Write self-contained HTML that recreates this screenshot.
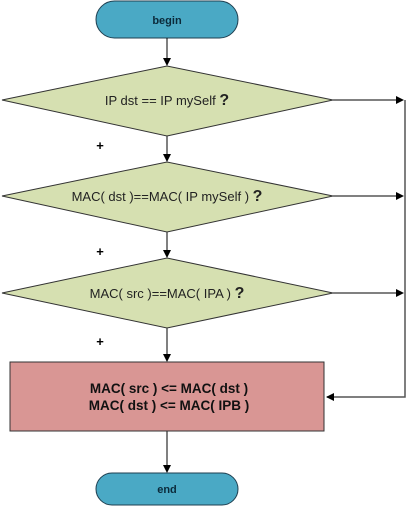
<!DOCTYPE html>
<html><head><style>body{margin:0;background:#fff}</style></head><body>
<svg width="406" height="506" viewBox="0 0 406 506" xmlns="http://www.w3.org/2000/svg" font-family="Liberation Sans, sans-serif">
<defs><marker id="a" markerWidth="8" markerHeight="8" refX="7" refY="4" orient="auto" markerUnits="userSpaceOnUse"><path d="M0,0 L8,4 L0,8 z" fill="#000"/></marker></defs>
<rect x="96" y="1" width="142" height="37" rx="18.5" fill="#4aa9c5" stroke="#1f3f50" stroke-width="1"/>
<text x="167" y="24" text-anchor="middle" font-size="11" font-weight="bold" fill="#0b2a3a">begin</text>
<g stroke="#000" stroke-width="1" fill="none">
<line x1="167" y1="38" x2="167" y2="65" marker-end="url(#a)"/>
<line x1="167" y1="136" x2="167" y2="161" marker-end="url(#a)"/>
<line x1="167" y1="232" x2="167" y2="257" marker-end="url(#a)"/>
<line x1="167" y1="328" x2="167" y2="361" marker-end="url(#a)"/>
<line x1="167" y1="431" x2="167" y2="472" marker-end="url(#a)"/>
<line x1="333" y1="100" x2="403" y2="100" marker-end="url(#a)"/>
<line x1="333" y1="196" x2="403" y2="196" marker-end="url(#a)"/>
<line x1="333" y1="293" x2="403" y2="293" marker-end="url(#a)"/>
</g>
<polyline points="405,100 405,397 327,397" fill="none" stroke="#555" stroke-width="1.5" marker-end="url(#a)"/>
<g fill="#d6e0b1" stroke="#333" stroke-width="1">
<polygon points="2,100 167,66 333,100 167,136"/>
<polygon points="2,196 167,162 333,196 167,232"/>
<polygon points="2,293 167,258 333,293 167,328"/>
</g>
<g font-size="13" fill="#222" text-anchor="middle">
<text x="167" y="105">IP dst == IP mySelf <tspan font-weight="bold" font-size="16">?</tspan></text>
<text x="167" y="201">MAC( dst )==MAC( IP mySelf ) <tspan font-weight="bold" font-size="16">?</tspan></text>
<text x="167" y="298">MAC( src )==MAC( IPA ) <tspan font-weight="bold" font-size="16">?</tspan></text>
</g>
<g font-size="13" font-weight="bold" fill="#000" text-anchor="middle">
<text x="100" y="150">+</text><text x="100" y="256">+</text><text x="100" y="346">+</text>
</g>
<rect x="10" y="362" width="314" height="69" fill="#d99694" stroke="#333" stroke-width="1"/>
<g font-size="13.5" font-weight="bold" fill="#111" text-anchor="middle">
<text x="169" y="393">MAC( src ) &lt;= MAC( dst )</text>
<text x="169" y="410">MAC( dst ) &lt;= MAC( IPB )</text>
</g>
<rect x="96" y="473" width="142" height="32" rx="16" fill="#4aa9c5" stroke="#1f3f50" stroke-width="1"/>
<text x="167" y="493" text-anchor="middle" font-size="11" font-weight="bold" fill="#0b2a3a">end</text>
</svg>
</body></html>
